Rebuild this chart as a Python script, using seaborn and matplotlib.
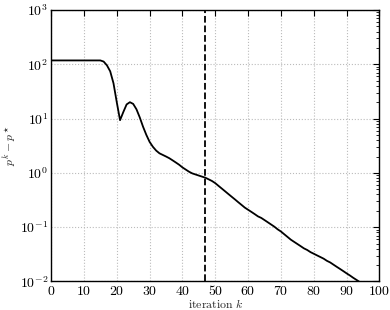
import numpy as np
import pandas as pd
import matplotlib
matplotlib.use("Agg")
import matplotlib.pyplot as plt
import seaborn as sns
from matplotlib.ticker import FuncFormatter, LogLocator, NullFormatter

iterations = list(range(0, 95))
gap = [117.5] * 16 + [
    112.0, 95.5, 74.1, 44.7, 20.0, 9.33, 13.2, 18.2, 20.0, 18.6,
    14.8, 10.5, 7.08, 5.01, 3.72, 3.02, 2.57, 2.29, 2.14, 2.00,
    1.86, 1.70, 1.55, 1.41, 1.26, 1.15, 1.05, 0.977, 0.933, 0.891,
    0.851, 0.813, 0.759, 0.708, 0.646, 0.575, 0.513, 0.457, 0.407, 0.363,
    0.324, 0.288, 0.257, 0.229, 0.209, 0.191, 0.174, 0.158, 0.148, 0.135,
    0.123, 0.112, 0.102, 0.0912, 0.0832, 0.0741, 0.0661, 0.0589, 0.0537, 0.0490,
    0.0447, 0.0407, 0.0380, 0.0347, 0.0324, 0.0302, 0.0282, 0.0263, 0.0240, 0.0224,
    0.0204, 0.0186, 0.0170, 0.0155, 0.0141, 0.0129, 0.0117, 0.0107, 0.00977,
]
vline_k = 47
x_ticks = [0, 10, 20, 30, 40, 50, 60, 70, 80, 90, 100]
y_ticks = [1e-2, 1e-1, 1e0, 1e1, 1e2, 1e3]

df = pd.DataFrame({"k": iterations, "gap": gap})

sns.set_style("white")
plt.rcParams["mathtext.fontset"] = "cm"
plt.rcParams["font.family"] = ["DejaVu Serif"]

fig = plt.figure(figsize=(3.9, 3.1), dpi=100)
ax = fig.add_axes([0.131, 0.092, 0.842, 0.876])
sns.lineplot(data=df, x="k", y="gap", ax=ax, color="black", linewidth=1.3)
ax.axvline(vline_k, color="black", linestyle="--", linewidth=1.3)
ax.set_yscale("log")
ax.set_xlim(0, 100)
ax.set_ylim(1e-2, 1e3)
ax.set_xticks(x_ticks)
ax.set_yticks(y_ticks)
ax.xaxis.set_major_formatter(FuncFormatter(lambda v, p: r"$%d$" % v))
ax.yaxis.set_major_formatter(FuncFormatter(lambda v, p: r"$10^{%d}$" % int(round(np.log10(v)))))
ax.yaxis.set_minor_locator(LogLocator(base=10, subs=np.arange(2, 10), numticks=20))
ax.yaxis.set_minor_formatter(NullFormatter())
ax.grid(True, which="major", linestyle=":", color="#bbbbbb", linewidth=0.8)
ax.tick_params(which="both", direction="in", top=True, right=True, labelsize=10, colors="black")
ax.tick_params(which="major", length=4, width=0.8, pad=2)
ax.tick_params(which="minor", length=2, width=0.6)
for s in ax.spines.values():
    s.set_color("black")
    s.set_linewidth(1.0)
ax.set_xlabel(r"$\mathrm{iteration}\ k$", fontsize=8.5, labelpad=0)
ax.set_ylabel(r"$p^k - p^\star$", fontsize=8.5, labelpad=1)
fig.savefig("out.png", dpi=100)
